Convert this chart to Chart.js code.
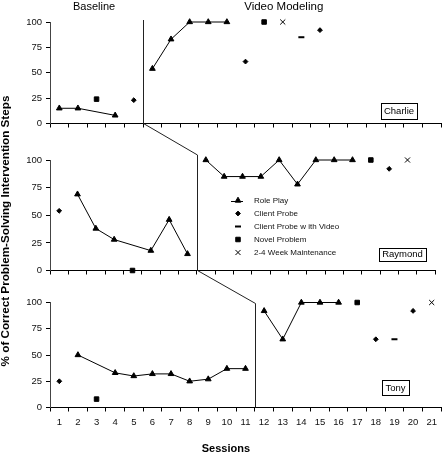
<!DOCTYPE html>
<html><head><meta charset="utf-8">
<script src="https://cdn.jsdelivr.net/npm/chart.js@4.4.1/dist/chart.umd.min.js"></script>
<style>
html,body{margin:0;padding:0;background:#fff;}
#wrap{position:relative;width:446px;height:453px;overflow:hidden;background:#fff;}
canvas{position:absolute;left:0;top:0;}
</style></head><body>
<div id="wrap">
<canvas id="c1" width="446" height="453"></canvas>
<canvas id="c2" width="446" height="453"></canvas>
<canvas id="c3" width="446" height="453"></canvas>
<canvas id="ov" width="446" height="453"></canvas>
</div>
<script>
const _ = null;
const sessions = ['1','2','3','4','5','6','7','8','9','10','11','12','13','14','15','16','17','18','19','20','21'];
const yTickValues = [0, 25, 50, 75, 100];
const phaseTitles = ['Baseline', 'Video Modeling'];
const participants = ['Charlie', 'Raymond', 'Tony'];
const seriesNames = ['Role Play', 'Client Probe', 'Client Probe w ith Video', 'Novel Problem', '2-4 Week Maintenance'];

// Charlie
const charlieRolePlayBaseline = [15, 15, _, 8, _, _, _, _, _, _, _, _, _, _, _, _, _, _, _, _, _];
const charlieRolePlayVideo    = [_, _, _, _, _, 54, 83, 100, 100, 100, _, _, _, _, _, _, _, _, _, _, _];
const charlieClientProbe      = [_, _, _, _, 23, _, _, _, _, _, 61, _, _, _, 92, _, _, _, _, _, _];
const charlieProbeVideo       = [_, _, _, _, _, _, _, _, _, _, _, _, _, 85, _, _, _, _, _, _, _];
const charlieNovel            = [_, _, 24, _, _, _, _, _, _, _, _, 100, _, _, _, _, _, _, _, _, _];
const charlieMaintenance      = [_, _, _, _, _, _, _, _, _, _, _, _, 100, _, _, _, _, _, _, _, _];

// Raymond
const raymondRolePlayBaseline = [_, 69, 38, 28, _, 18, 46, 15, _, _, _, _, _, _, _, _, _, _, _, _, _];
const raymondRolePlayVideo    = [_, _, _, _, _, _, _, _, 100, 85, 85, 85, 100, 78, 100, 100, 100, _, _, _, _];
const raymondClientProbe      = [54, _, _, _, _, _, _, _, _, _, _, _, _, _, _, _, _, _, 92, _, _];
const raymondProbeVideo       = [_, _, _, _, _, _, _, _, _, _, _, _, _, _, _, _, _, _, _, _, _];
const raymondNovel            = [_, _, _, _, 0, _, _, _, _, _, _, _, _, _, _, _, _, 100, _, _, _];
const raymondMaintenance      = [_, _, _, _, _, _, _, _, _, _, _, _, _, _, _, _, _, _, _, 100, _];

// Tony
const tonyRolePlayBaseline = [_, 50, _, 33, 30, 32, 32, 25, 27, 37, 37, _, _, _, _, _, _, _, _, _, _];
const tonyRolePlayVideo    = [_, _, _, _, _, _, _, _, _, _, _, 92, 65, 100, 100, 100, _, _, _, _, _];
const tonyClientProbe      = [25, _, _, _, _, _, _, _, _, _, _, _, _, _, _, _, _, 65, _, 92, _];
const tonyProbeVideo       = [_, _, _, _, _, _, _, _, _, _, _, _, _, _, _, _, _, _, 65, _, _];
const tonyNovel            = [_, _, 8, _, _, _, _, _, _, _, _, _, _, _, _, _, 100, _, _, _, _];
const tonyMaintenance      = [_, _, _, _, _, _, _, _, _, _, _, _, _, _, _, _, _, _, _, _, 100];

const FONT = "'Liberation Sans', Arial, Helvetica, sans-serif";
Chart.defaults.font.family = FONT;
Chart.defaults.color = '#000';

// marker styles per series (order matches seriesNames)
const markerStyles = [
  {pointStyle: 'triangle', pointRadius: 3.3, pointBorderWidth: 1, line: true},
  {pointStyle: 'rectRot', pointRadius: 2.4, pointBorderWidth: 1, line: false},
  {pointStyle: 'line', pointRadius: 3, pointBorderWidth: 2, line: false},
  {pointStyle: 'rect', pointRadius: 3.2, pointBorderWidth: 1, line: false},
  {pointStyle: 'crossRot', pointRadius: 3.6, pointBorderWidth: 1, line: false}
];

// layout of the three panels (pixels)
const panelLayout = [
  {canvas: 'c1', top: 22, bottom: 123.5, right: 445, xh: 4, labels: false, overshoot: 2,
   box: {cx: -42, cy: -13, w: 36, h: 15.5}},
  {canvas: 'c2', top: 160, bottom: 270.5, right: 435, xh: 4, labels: false, overshoot: 5,
   box: {cx: -32.5, cy: -16.5, w: 47, h: 13}},
  {canvas: 'c3', top: 302.5, bottom: 407.5, right: 445, xh: 20, labels: true, overshoot: -1,
   box: {cx: -45.5, cy: -20, w: 27, h: 15}}
];

const panelSeries = [
  [charlieRolePlayBaseline, charlieRolePlayVideo, charlieClientProbe, charlieProbeVideo, charlieNovel, charlieMaintenance],
  [raymondRolePlayBaseline, raymondRolePlayVideo, raymondClientProbe, raymondProbeVideo, raymondNovel, raymondMaintenance],
  [tonyRolePlayBaseline, tonyRolePlayVideo, tonyClientProbe, tonyProbeVideo, tonyNovel, tonyMaintenance]
];

function ds(label, data, st) {
  return {
    label, data,
    borderColor: '#000', backgroundColor: '#000', borderWidth: 1,
    pointStyle: st.pointStyle, pointRadius: st.pointRadius, pointHoverRadius: st.pointRadius,
    pointBorderWidth: st.pointBorderWidth, pointBackgroundColor: '#000', pointBorderColor: '#000',
    showLine: st.line, spanGaps: true, clip: false, tension: 0
  };
}

function makePanel(i) {
  const L = panelLayout[i];
  const s = panelSeries[i];
  const datasets = [
    ds(seriesNames[0], s[0], markerStyles[0]),
    ds(seriesNames[0], s[1], markerStyles[0]),
    ds(seriesNames[1], s[2], markerStyles[1]),
    ds(seriesNames[2], s[3], markerStyles[2]),
    ds(seriesNames[3], s[4], markerStyles[3]),
    ds(seriesNames[4], s[5], markerStyles[4])
  ];
  return new Chart(document.getElementById(L.canvas), {
    type: 'line',
    data: {labels: sessions, datasets},
    options: {
      responsive: false, animation: false, devicePixelRatio: 1, events: [],
      layout: {padding: {top: L.top, left: 0, right: 446 - L.right, bottom: 453 - L.bottom - L.xh}},
      plugins: {legend: {display: false}, tooltip: {enabled: false}, title: {display: false}},
      scales: {
        x: {
          type: 'category', offset: true,
          grid: {offset: true, drawOnChartArea: false, drawTicks: true, tickLength: 4, color: '#000', lineWidth: 1},
          border: {display: true, color: '#000', width: 1},
          ticks: {display: L.labels, color: '#111', font: {size: 9.5}, padding: 5, maxRotation: 0, autoSkip: false},
          afterFit: sc => { sc.height = L.xh; }
        },
        y: {
          min: 0, max: 100,
          afterBuildTicks: sc => { sc.ticks = yTickValues.map(v => ({value: v})); },
          ticks: {color: '#111', font: {size: 9.5}, padding: 4},
          grid: {drawOnChartArea: false, tickLength: 4, color: '#000', lineWidth: 1},
          border: {display: true, color: '#444', width: 1},
          afterFit: sc => { sc.width = 50; }
        }
      }
    }
  });
}

const charts = panelLayout.map((_l, i) => makePanel(i));

function firstIndex(arr) { return arr.findIndex(v => v !== null); }

function drawMarker(ctx, style, x, y) {
  const r = style.pointRadius;
  ctx.save();
  ctx.fillStyle = '#000'; ctx.strokeStyle = '#000'; ctx.lineWidth = style.pointBorderWidth;
  ctx.beginPath();
  if (style.pointStyle === 'triangle') {
    for (let k = 0; k < 3; k++) {
      const a = k * 2 * Math.PI / 3;
      const px = x + Math.sin(a) * r, py = y - Math.cos(a) * r;
      if (k === 0) ctx.moveTo(px, py); else ctx.lineTo(px, py);
    }
    ctx.closePath(); ctx.fill(); ctx.stroke();
  } else if (style.pointStyle === 'rectRot') {
    ctx.moveTo(x - r, y); ctx.lineTo(x, y - r); ctx.lineTo(x + r, y); ctx.lineTo(x, y + r);
    ctx.closePath(); ctx.fill(); ctx.stroke();
  } else if (style.pointStyle === 'line') {
    ctx.moveTo(x - r, y); ctx.lineTo(x + r, y); ctx.stroke();
  } else if (style.pointStyle === 'rect') {
    const h = Math.SQRT1_2 * r;
    ctx.rect(x - h, y - h, 2 * h, 2 * h); ctx.fill(); ctx.stroke();
  } else if (style.pointStyle === 'crossRot') {
    const h = Math.SQRT1_2 * r;
    ctx.moveTo(x - h, y - h); ctx.lineTo(x + h, y + h);
    ctx.moveTo(x + h, y - h); ctx.lineTo(x - h, y + h); ctx.stroke();
  }
  ctx.restore();
}

function drawOverlay() {
  const ctx = document.getElementById('ov').getContext('2d');
  ctx.clearRect(0, 0, 446, 453);

  // phase-change lines and connectors
  const pts = charts.map((ch, i) => {
    const xs = ch.scales.x, a = ch.chartArea;
    const k = firstIndex(panelSeries[i][1]);
    const px = Math.round((xs.getPixelForValue(k - 1) + xs.getPixelForValue(k)) / 2) + 0.5;
    return {px, top: a.top - panelLayout[i].overshoot, bottom: a.bottom};
  });
  ctx.save();
  ctx.strokeStyle = '#222'; ctx.lineWidth = 1;
  ctx.beginPath();
  pts.forEach((p, i) => {
    ctx.moveTo(p.px, p.top); ctx.lineTo(p.px, p.bottom);
    if (i < pts.length - 1) ctx.lineTo(pts[i + 1].px, pts[i + 1].top);
  });
  ctx.stroke();
  ctx.restore();

  // phase titles
  const x1 = charts[0].scales.x;
  ctx.save();
  ctx.fillStyle = '#000';
  ctx.textAlign = 'center'; ctx.textBaseline = 'alphabetic';
  ctx.font = '11px ' + FONT;
  ctx.fillText(phaseTitles[0], x1.getPixelForValue(2) - 2.5, 9.5);
  ctx.font = '11.5px ' + FONT;
  ctx.fillText(phaseTitles[1], x1.getPixelForValue(12) + 1, 9.5);
  ctx.restore();

  // participant boxes
  charts.forEach((ch, i) => {
    const a = ch.chartArea, b = panelLayout[i].box;
    const cx = a.right + b.cx, cy = a.bottom + b.cy;
    ctx.save();
    ctx.fillStyle = '#fff';
    ctx.strokeStyle = '#000'; ctx.lineWidth = 1;
    const l = Math.round(cx - b.w / 2) + 0.5, t = Math.round(cy - b.h / 2) + 0.5;
    ctx.fillRect(l, t, Math.round(b.w), Math.round(b.h));
    ctx.strokeRect(l, t, Math.round(b.w), Math.round(b.h));
    ctx.fillStyle = '#000';
    ctx.font = '9.5px ' + FONT;
    ctx.textAlign = 'center'; ctx.textBaseline = 'middle';
    ctx.fillText(participants[i], cx, cy + 0.5);
    ctx.restore();
  });

  // legend inside the Raymond panel
  const a2 = charts[1].chartArea;
  const lx = a2.left + 181, ly = a2.top + 40.5, rowH = 13;
  ctx.save();
  ctx.font = '8px ' + FONT;
  ctx.fillStyle = '#111';
  ctx.textAlign = 'left'; ctx.textBaseline = 'middle';
  seriesNames.forEach((name, k) => {
    const y = ly + k * rowH;
    const st = markerStyles[k];
    if (st.line) {
      ctx.save(); ctx.strokeStyle = '#000'; ctx.lineWidth = 1;
      ctx.beginPath(); ctx.moveTo(lx, Math.round(y) + 0.5); ctx.lineTo(lx + 12, Math.round(y) + 0.5); ctx.stroke();
      ctx.restore();
    }
    drawMarker(ctx, st, lx + 7, y);
    ctx.fillText(name, lx + 23, y + 0.5);
  });
  ctx.restore();

  // axis titles
  ctx.save();
  ctx.fillStyle = '#000';
  ctx.font = 'bold 11.7px ' + FONT;
  ctx.textAlign = 'center'; ctx.textBaseline = 'alphabetic';
  ctx.translate(8.5, 231);
  ctx.rotate(-Math.PI / 2);
  ctx.fillText('% of Correct Problem-Solving Intervention Steps', 0, 0);
  ctx.restore();

  const x3 = charts[2].scales.x;
  ctx.save();
  ctx.fillStyle = '#000';
  ctx.font = 'bold 11px ' + FONT;
  ctx.textAlign = 'center'; ctx.textBaseline = 'alphabetic';
  ctx.fillText('Sessions', x3.getPixelForValue(9) - 1, 452);
  ctx.restore();
}
drawOverlay();
</script>
</body></html>
